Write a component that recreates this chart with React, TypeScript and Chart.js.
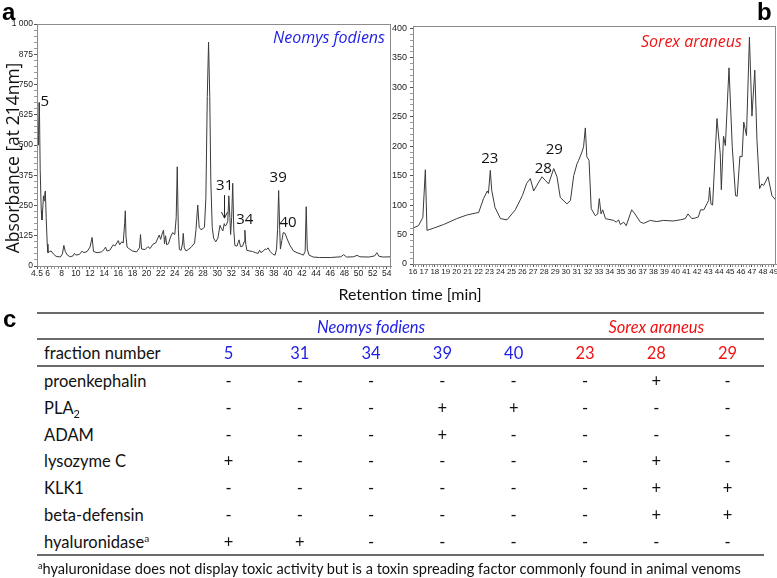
import React, { useEffect, useRef } from "react";
import { Chart, registerables } from "chart.js";
Chart.register(...registerables);

// ---------- DATA ----------
const neomysTime = [4.5, 4.55, 4.6, 4.65, 4.72, 4.8, 4.85, 4.95, 5.1, 5.2, 5.3, 5.42, 5.5, 5.6, 5.68, 5.8, 5.95, 6.05, 6.3, 6.5, 6.8, 7.2, 7.8, 8.1, 8.3, 8.5, 8.8, 9.2, 9.6, 9.8, 10.0, 10.5, 10.9, 11.1, 11.6, 12.0, 12.3, 12.5, 13.0, 13.6, 14.0, 14.2, 14.4, 14.8, 15.3, 15.5, 15.8, 16.0, 16.2, 16.5, 16.7, 16.9, 17.0, 17.1, 17.25, 17.5, 18.0, 18.6, 19.0, 19.15, 19.3, 19.8, 20.2, 20.5, 20.9, 21.3, 21.6, 21.8, 22.0, 22.2, 22.4, 22.55, 22.7, 22.85, 23.1, 23.4, 23.7, 24.0, 24.2, 24.35, 24.5, 24.65, 24.9, 25.1, 25.2, 25.35, 25.6, 26.0, 26.4, 26.8, 27.0, 27.25, 27.45, 27.7, 28.0, 28.2, 28.4, 28.6, 28.78, 28.95, 29.1, 29.3, 29.5, 29.8, 30.1, 30.4, 30.6, 30.8, 31.0, 31.15, 31.3, 31.5, 31.65, 31.8, 31.9, 32.05, 32.2, 32.35, 32.5, 32.8, 33.0, 33.1, 33.3, 33.6, 33.8, 33.92, 34.05, 34.2, 34.6, 35.0, 35.4, 35.8, 36.0, 36.2, 36.5, 36.8, 37.0, 37.2, 37.5, 37.9, 38.2, 38.4, 38.55, 38.7, 38.85, 38.95, 39.15, 39.35, 39.6, 39.9, 40.3, 40.8, 41.3, 41.8, 42.2, 42.45, 42.6, 42.75, 43.0, 43.6, 44.5, 46.0, 47.5, 47.9, 48.3, 49.3, 49.8, 50.2, 51.5, 52.3, 52.6, 52.9, 53.5, 54.6];
const neomysAbs = [1000, 860, 620, 500, 540, 675, 640, 400, 230, 190, 230, 290, 270, 300, 310, 200, 90, 55, 60, 62, 50, 40, 37, 50, 85, 60, 45, 38, 42, 52, 45, 48, 62, 55, 60, 78, 118, 60, 55, 58, 68, 78, 62, 65, 88, 82, 95, 105, 88, 100, 95, 175, 228, 120, 78, 72, 62, 58, 75, 130, 70, 68, 80, 72, 90, 95, 115, 128, 110, 132, 148, 92, 125, 88, 92, 120, 138, 130, 200, 410, 150, 68, 65, 95, 135, 75, 62, 70, 80, 95, 150, 252, 160, 150, 155, 160, 280, 700, 925, 700, 350, 160, 115, 100, 115, 168, 155, 145, 175, 165, 170, 185, 290, 200, 130, 200, 342, 150, 85, 82, 100, 108, 80, 82, 100, 148, 90, 65, 62, 60, 55, 52, 65, 55, 62, 70, 68, 75, 60, 48, 45, 70, 150, 312, 150, 70, 105, 138, 135, 112, 85, 62, 55, 50, 45, 60, 245, 70, 45, 37, 35, 35, 38, 47, 37, 38, 44, 38, 37, 42, 55, 40, 37, 38];

const sorexTime = [16.0, 16.5, 16.9, 17.13, 17.28, 17.9, 18.8, 20.0, 20.9, 21.85, 22.0, 22.45, 22.8, 22.9, 23.07, 23.2, 23.5, 24.0, 24.6, 25.36, 26.0, 26.4, 26.73, 27.04, 27.5, 27.8, 28.1, 28.4, 28.87, 29.17, 29.47, 30.08, 30.4, 30.7, 31.0, 31.15, 31.45, 31.6, 31.76, 31.9, 32.1, 32.3, 32.67, 32.9, 33.04, 33.2, 33.35, 33.6, 34.35, 34.6, 34.8, 34.96, 35.27, 35.5, 35.87, 36.0, 36.3, 36.8, 37.1, 37.7, 38.3, 38.9, 39.8, 40.45, 40.9, 41.15, 41.5, 41.8, 42.1, 42.3, 42.6, 42.9, 43.04, 43.13, 43.25, 43.4, 43.8, 44.1, 44.2, 44.4, 44.57, 44.9, 45.2, 45.5, 45.65, 45.9, 46.1, 46.25, 46.5, 46.77, 47.0, 47.26, 47.46, 47.7, 47.9, 48.06, 48.47, 48.83, 49.2];
const sorexAbs = [61, 65, 79, 160, 57, 61, 67, 77, 83, 87, 87, 111, 124, 120, 159, 125, 96, 77, 75, 92, 116, 137, 145, 124, 139, 148, 142, 136, 162, 148, 113, 102, 108, 150, 170, 176, 190, 199, 231, 182, 176, 94, 82, 85, 111, 85, 92, 77, 74, 71, 75, 67, 71, 65, 85, 92, 85, 71, 69, 74, 72, 74, 73, 75, 77, 85, 77, 78, 80, 92, 92, 103, 108, 130, 102, 100, 247, 187, 126, 217, 201, 333, 199, 116, 115, 183, 182, 241, 218, 385, 251, 329, 210, 128, 136, 133, 148, 116, 108];

const neomysXLabels = [4.5, 6, 8, 10, 12, 14, 16, 18, 20, 22, 24, 26, 28, 30, 32, 34, 36, 38, 40, 42, 44, 46, 48, 50, 52, 54];
const neomysYLabels = [0, 125, 250, 375, 500, 625, 750, 875, 1000];
const sorexXLabels = [16, 17, 18, 19, 20, 21, 22, 23, 24, 25, 26, 27, 28, 29, 30, 31, 32, 33, 34, 35, 36, 37, 38, 39, 40, 41, 42, 43, 44, 45, 46, 47, 48, 49];
const sorexYLabels = [0, 50, 100, 150, 200, 250, 300, 350, 400];

const neomysPeakLabels = ["5", "31", "34", "39", "40"];
const neomysPeakTime = [5.6, 31.06, 33.9, 38.63, 40.04];
const neomysPeakAbs = [678, 330, 193, 363, 179];
const sorexPeakLabels = ["23", "28", "29"];
const sorexPeakTime = [23.03, 27.92, 28.93];
const sorexPeakAbs = [178, 162, 194];

const fractionNumbers = ["5", "31", "34", "39", "40", "23", "28", "29"];
const fractionSpecies = [0, 0, 0, 0, 0, 1, 1, 1];
const speciesNames = ["Neomys fodiens", "Sorex araneus"];
const proteinNames = ["proenkephalin", "PLA2", "ADAM", "lysozyme C", "KLK1", "beta-defensin", "hyaluronidase"];
const proteinHits = [
  "------+-",
  "---++---",
  "---+----",
  "+-----+-",
  "------++",
  "------++",
  "++------",
];
const footnoteText = "hyaluronidase does not display toxic activity but is a toxin spreading factor commonly found in animal venoms";

// ---------- STYLE ----------
const BLUE = "#1e1ee6";
const RED = "#f01414";
const TICK_FONT = '"Liberation Sans", Arial, sans-serif';
const TEXT_FONT = 'Lato, "Open Sans", sans-serif';

function tickValues(min: number, max: number, step: number, majors: number[]) {
  const s = new Set<number>();
  for (let v = Math.ceil(min / step - 1e-9) * step; v <= max + 1e-9; v += step) s.add(Math.round(v * 1000) / 1000);
  majors.forEach((m) => s.add(m));
  return Array.from(s).sort((a, b) => a - b);
}
const isIn = (arr: number[], v: number) => arr.some((m) => Math.abs(m - v) < 1e-6);

type Spec = {
  times: number[]; values: number[];
  xMin: number; xMax: number; yMax: number;
  xMajor: number[]; xStep: number; yMajor: number[]; yStep: number;
  yFmt: (v: number) => string;
  pLabels: string[]; pT: number[]; pV: number[];
  arrow?: { t: number; from: number; to: number };
  W: number; H: number; left: number; top: number; right: number; bottom: number;
  yPad: number; xFont: number; yFont: number;
};

function build(canvas: HTMLCanvasElement, s: Spec) {
  const xt = tickValues(s.xMin, s.xMax, s.xStep, s.xMajor);
  const yt = tickValues(0, s.yMax, s.yStep, s.yMajor);
  const overlay = {
    id: "overlay",
    afterDraw(chart: any) {
      const { ctx, chartArea: a, scales } = chart;
      ctx.save();
      ctx.strokeStyle = "#8c8c8c";
      ctx.lineWidth = 1;
      ctx.strokeRect(Math.round(a.left) + 0.5, Math.round(a.top) + 0.5, Math.round(a.right - a.left) - 1, Math.round(a.bottom - a.top));
      ctx.fillStyle = "#111";
      ctx.font = '15px "Open Sans", sans-serif';
      ctx.textAlign = "center";
      ctx.textBaseline = "middle";
      s.pLabels.forEach((l, i) => {
        ctx.fillText(l, scales.x.getPixelForValue(s.pT[i]), scales.y.getPixelForValue(s.pV[i]));
      });
      if (s.arrow) {
        const x = Math.round(scales.x.getPixelForValue(s.arrow.t)) + 0.5;
        const y1 = scales.y.getPixelForValue(s.arrow.from);
        const y2 = scales.y.getPixelForValue(s.arrow.to);
        ctx.strokeStyle = "#222";
        ctx.beginPath();
        ctx.moveTo(x, y1); ctx.lineTo(x, y2);
        ctx.moveTo(x - 3, y2 - 6); ctx.lineTo(x, y2); ctx.lineTo(x + 3, y2 - 6);
        ctx.stroke();
      }
      ctx.restore();
    },
  };
  return new Chart(canvas, {
    type: "line",
    data: {
      datasets: [{
        data: s.times.map((t, i) => ({ x: t, y: s.values[i] })),
        borderColor: "#3a3a3a", borderWidth: 1, pointRadius: 0, tension: 0, fill: false,
      }],
    },
    options: {
      animation: false, responsive: false, devicePixelRatio: 1,
      layout: { padding: { top: s.top, right: s.W - s.right, left: 0, bottom: 0 } },
      plugins: { legend: { display: false }, tooltip: { enabled: false } },
      scales: {
        x: {
          type: "linear", min: s.xMin, max: s.xMax,
          afterBuildTicks: (sc: any) => { sc.ticks = xt.map((v) => ({ value: v })); },
          afterFit: (sc: any) => { sc.height = s.H - s.bottom; },
          grid: { drawOnChartArea: false, drawTicks: true, tickLength: 3, tickColor: (c: any) => (isIn(s.xMajor, c.tick.value) ? "#555" : "#999") },
          border: { color: "#8c8c8c" },
          ticks: {
            autoSkip: false, maxRotation: 0, minRotation: 0, padding: 0, color: "#222",
            font: { family: TICK_FONT, size: s.xFont },
            callback: (v: any) => (isIn(s.xMajor, Number(v)) ? String(v) : ""),
          },
        },
        y: {
          type: "linear", min: 0, max: s.yMax,
          afterBuildTicks: (sc: any) => { sc.ticks = yt.map((v) => ({ value: v })); },
          afterFit: (sc: any) => { sc.width = s.left; },
          grid: { drawOnChartArea: false, drawTicks: true, tickLength: 3, tickColor: (c: any) => (isIn(s.yMajor, c.tick.value) ? "#555" : "#999") },
          border: { color: "#8c8c8c" },
          ticks: {
            autoSkip: false, padding: s.yPad, color: "#222",
            font: { family: TICK_FONT, size: s.yFont },
            callback: (v: any) => (isIn(s.yMajor, Number(v)) ? s.yFmt(Number(v)) : ""),
          },
        },
      },
    },
    plugins: [overlay],
  } as any);
}

const neomysSpec: Spec = {
  times: neomysTime, values: neomysAbs, xMin: 4.5, xMax: 54.6, yMax: 1000,
  xMajor: neomysXLabels, xStep: 0.5, yMajor: neomysYLabels, yStep: 25,
  yFmt: (v) => (v === 1000 ? "1 000" : String(v)),
  pLabels: neomysPeakLabels, pT: neomysPeakTime, pV: neomysPeakAbs,
  arrow: { t: 31.03, from: 293, to: 198 },
  W: 400, H: 290, left: 37, top: 24, right: 391, bottom: 266, yPad: 1, xFont: 8.5, yFont: 8.5,
};
const sorexSpec: Spec = {
  times: sorexTime, values: sorexAbs, xMin: 16, xMax: 49.2, yMax: 404,
  xMajor: sorexXLabels, xStep: 0.25, yMajor: sorexYLabels, yStep: 10,
  yFmt: (v) => String(v),
  pLabels: sorexPeakLabels, pT: sorexPeakTime, pV: sorexPeakAbs,
  W: 400, H: 290, left: 23, top: 26, right: 386, bottom: 264, yPad: 3, xFont: 8, yFont: 9,
};

const abs = (o: any) => ({ position: "absolute" as const, ...o });

export default function App() {
  const lRef = useRef<HTMLCanvasElement>(null);
  const rRef = useRef<HTMLCanvasElement>(null);
  useEffect(() => {
    const a = build(lRef.current!, neomysSpec);
    const b = build(rRef.current!, sorexSpec);
    return () => { a.destroy(); b.destroy(); };
  }, []);

  const colX = (i: number) => 228.5 + i * 71.3;
  const rowY = (i: number) => 380.7 + i * 26.9;
  const cell = (cx: number, cy: number, content: any, color = "#111", extra: any = {}) => (
    <div style={abs({ left: cx - 60, width: 120, top: cy - 13, height: 26, display: "flex", alignItems: "center", justifyContent: "center", color, ...extra })}>{content}</div>
  );
  const rowLabel = (cy: number, content: any) => (
    <div style={abs({ left: 44, top: cy - 13, height: 26, display: "flex", alignItems: "center", color: "#111", whiteSpace: "nowrap" })}>{content}</div>
  );
  const hline = (y: number) => <div style={abs({ left: 37, top: y, width: 727, height: 2, background: "#6a6a6a" })} />;
  const groupCenter = (g: number) => {
    const idx = fractionSpecies.map((s, i) => (s === g ? i : -1)).filter((i) => i >= 0);
    return (colX(idx[0]) + colX(idx[idx.length - 1])) / 2;
  };
  const supStyle = { position: "relative" as const, top: -6, fontSize: 10, lineHeight: 0 };

  return (
    <div style={abs({ left: 0, top: 0, width: 777, height: 578, overflow: "hidden", background: "#fff", fontFamily: TEXT_FONT, fontSize: 16.5 })}>
      <canvas ref={lRef} width={400} height={290} style={abs({ left: 0, top: 0 })} />
      <canvas ref={rRef} width={400} height={290} style={abs({ left: 390, top: 0 })} />

      <div style={abs({ left: 2, top: 0, font: 'bold 24px "Liberation Sans", Arial, sans-serif', lineHeight: "24px" })}>a</div>
      <div style={abs({ left: 757, top: 0, font: 'bold 24px "Liberation Sans", Arial, sans-serif', lineHeight: "24px" })}>b</div>
      <div style={abs({ left: 3, top: 307, font: 'bold 24px "Liberation Sans", Arial, sans-serif', lineHeight: "24px" })}>c</div>

      <div style={abs({ left: 8.5 - 120, top: 158 - 9, width: 240, height: 18, lineHeight: "18px", textAlign: "center", transform: "rotate(-90deg)", font: '17.5px "Open Sans", sans-serif', color: "#111", whiteSpace: "nowrap" })}>Absorbance [at 214nm]</div>
      <div style={abs({ left: 310, top: 286, width: 200, textAlign: "center", fontSize: 16, lineHeight: "16px", color: "#111" })}>Retention time [min]</div>

      <div style={abs({ left: 273, top: 29, font: 'italic 16px "Open Sans", sans-serif', lineHeight: "16px", color: BLUE, whiteSpace: "nowrap" })}>{speciesNames[0]}</div>
      <div style={abs({ left: 641, top: 33, font: 'italic 16px "Open Sans", sans-serif', lineHeight: "16px", color: RED, whiteSpace: "nowrap" })}>{speciesNames[1]}</div>

      {hline(312)}
      {cell(groupCenter(0), 326.5, <i>{speciesNames[0]}</i>, BLUE)}
      {cell(groupCenter(1), 326.5, <i>{speciesNames[1]}</i>, RED)}
      {hline(338)}
      {rowLabel(352.5, "fraction number")}
      {fractionNumbers.map((f, i) => <React.Fragment key={"f" + i}>{cell(colX(i), 352.5, f, fractionSpecies[i] === 0 ? BLUE : RED)}</React.Fragment>)}
      {hline(365)}
      {proteinNames.map((p, r) => (
        <React.Fragment key={"r" + r}>
          {rowLabel(rowY(r), p === "PLA2" ? <span>PLA<span style={{ position: "relative", top: 4, fontSize: 11, lineHeight: 0 }}>2</span></span> : p === "hyaluronidase" ? <span>{p}<span style={supStyle}>a</span></span> : p)}
          {proteinHits[r].split("").map((h, c) => <React.Fragment key={"c" + c}>{cell(colX(c), rowY(r), h === "+" ? "+" : "-")}</React.Fragment>)}
        </React.Fragment>
      ))}
      {hline(554)}
      <div style={abs({ left: 38, top: 560, height: 18, lineHeight: "18px", fontSize: 14.6, color: "#111", whiteSpace: "nowrap" })}>
        <span style={{ position: "relative", top: -5, fontSize: 9, lineHeight: 0 }}>a</span>{footnoteText}
      </div>
    </div>
  );
}
